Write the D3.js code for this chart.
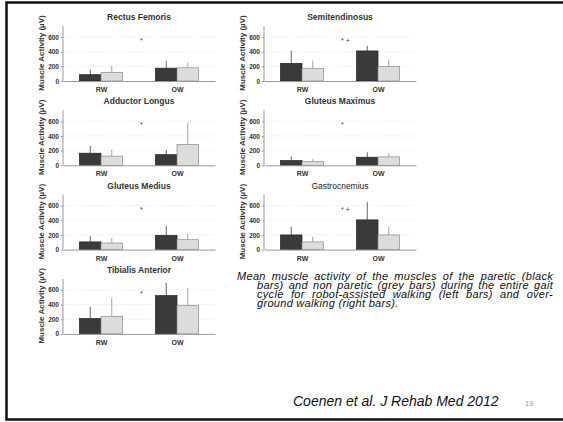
<!DOCTYPE html>
<html>
<head>
<meta charset="utf-8">
<script src="https://cdn.jsdelivr.net/npm/d3@7"></script>
<style>
  body { margin: 0; background: #fff; }
  svg { display: block; font-family: "Liberation Sans", Arial, sans-serif; }
</style>
</head>
<body>
<script>

let width = 563;
let height = 422;

// muscles, in reading order (left column, right column)
let muscles = ["Rectus Femoris", "Semitendinosus", "Adductor Longus", "Gluteus Maximus",
	"Gluteus Medius", "Gastrocnemius", "Tibialis Anterior"];
let conditions = ["RW", "OW"];
let sides = ["paretic", "nonparetic"];

// mean activity (µV) per muscle: [RW, OW]
let pareticMean = [[86, 175], [240, 410], [165, 145], [65, 110], [105, 195], [200, 405], [210, 522]];
let nonPareticMean = [[118, 180], [170, 200], [125, 285], [50, 115], [90, 135], [105, 200], [240, 390]];
// standard deviation (µV) per muscle: [RW, OW]
let pareticSD = [[70, 100], [170, 70], [100, 65], [55, 70], [80, 130], [110, 245], [160, 175]];
let nonPareticSD = [[95, 75], [110, 90], [90, 290], [35, 50], [70, 80], [70, 115], [255, 235]];

let markers = ["*", "* +", "*", "*", "*", "* +", "*"];
let yTicks = [0, 200, 400, 600];

let caption = [
	"Mean muscle activity of the muscles of the paretic (black",
	"bars) and non paretic (grey bars) during the entire gait",
	"cycle for robot-assisted walking (left bars) and over-",
	"ground walking (right bars)."
];
let citation = "Coenen et al. J Rehab Med 2012";
let pageNumber = "19";

let svg = d3.select("body")
	.append("svg")
		.attr("width", width)
		.attr("height", height);

svg.append("rect")
	.attr("width", width)
	.attr("height", height)
	.attr("fill", "#fff");

// slide frame
svg.append("path")
	.attr("d", "M" + (width + 5) + ",2.5 H6.5 V419.5 H" + (width + 5))
	.attr("fill", "none")
	.attr("stroke", "#111")
	.attr("stroke-width", 2.5);

let axisLen = 152;
let xScale = d3.scalePoint()
	.domain(conditions)
	.range([0, axisLen])
	.padding(0.5);

let sideScale = d3.scaleBand()
	.domain(sides)
	.range([-21.5, 21.5]);

let colors = {
	paretic: {fill: "#3a3a3a", stroke: "#222", err: "#555"},
	nonparetic: {fill: "#dcdcdc", stroke: "#8a8a8a", err: "#9a9a9a"}
};

muscles.forEach((name, i) => {
	let col = i % 2;
	let row = Math.floor(i / 2);
	let x0 = 63 + col * 201;
	let zeroY = 81 + row * 84.3;

	let yScale = d3.scaleLinear()
		.domain([0, 750])
		.range([zeroY, zeroY - 55]);

	let g = svg.append("g")
		.attr("transform", "translate(" + x0 + ",0)");

	// dotted gridlines
	g.selectAll("line.grid")
		.data(yTicks.slice(1))
		.enter().append("line")
		.attr("class", "grid")
		.attr("x1", 0)
		.attr("x2", axisLen)
		.attr("y1", d => yScale(d))
		.attr("y2", d => yScale(d))
		.attr("stroke", "#d8d8d8")
		.attr("stroke-width", 0.7)
		.attr("stroke-dasharray", "1,1.5");

	let rows = [];
	conditions.forEach((c, j) => {
		rows.push({cond: c, side: "paretic", mean: pareticMean[i][j], sd: pareticSD[i][j]});
		rows.push({cond: c, side: "nonparetic", mean: nonPareticMean[i][j], sd: nonPareticSD[i][j]});
	});

	// error bars (upper half only)
	g.selectAll("line.err")
		.data(rows)
		.enter().append("line")
		.attr("class", "err")
		.attr("x1", d => xScale(d.cond) + sideScale(d.side) + sideScale.bandwidth() / 2)
		.attr("x2", d => xScale(d.cond) + sideScale(d.side) + sideScale.bandwidth() / 2)
		.attr("y1", d => yScale(d.mean))
		.attr("y2", d => yScale(d.mean + d.sd))
		.attr("stroke", d => colors[d.side].err)
		.attr("stroke-width", 0.9);

	g.selectAll("rect.bar")
		.data(rows)
		.enter().append("rect")
		.attr("class", "bar")
		.attr("x", d => xScale(d.cond) + sideScale(d.side))
		.attr("y", d => yScale(d.mean))
		.attr("width", sideScale.bandwidth())
		.attr("height", d => yScale(0) - yScale(d.mean))
		.attr("fill", d => colors[d.side].fill)
		.attr("stroke", d => colors[d.side].stroke)
		.attr("stroke-width", 0.7);

	// y axis
	let yAxis = d3.axisLeft(yScale)
		.tickValues(yTicks)
		.tickSize(2)
		.tickPadding(2);
	let ya = g.append("g").call(yAxis);
	ya.select(".domain").attr("stroke", "#999").attr("d", "M0," + yScale(750) + "V" + yScale(0));
	ya.selectAll(".tick line").attr("stroke", "#999");
	ya.selectAll(".tick text")
		.attr("fill", "#333")
		.style("font-size", "6.5px")
		.style("font-weight", "bold")
		.style("font-family", "Liberation Sans, Arial, sans-serif");

	// x axis
	let xAxis = d3.axisBottom(xScale).tickSize(0).tickPadding(6);
	let xa = g.append("g")
		.attr("transform", "translate(0," + zeroY + ")")
		.call(xAxis);
	xa.select(".domain").attr("stroke", "#999");
	xa.selectAll(".tick text")
		.attr("fill", "#333")
		.style("font-size", "7px")
		.style("font-weight", "bold")
		.style("font-family", "Liberation Sans, Arial, sans-serif");

	// axis title
	g.append("text")
		.attr("transform", "translate(-19," + (zeroY - 28) + ") rotate(-90)")
		.attr("text-anchor", "middle")
		.attr("fill", "#333")
		.style("font-size", "8px")
		.style("font-weight", "bold")
		.text("Muscle Activity (µV)");

	// panel title
	g.append("text")
		.attr("x", axisLen / 2)
		.attr("y", zeroY - 61)
		.attr("text-anchor", "middle")
		.attr("fill", name === "Gastrocnemius" ? "#222" : "#333")
		.style("font-size", "8.5px")
		.style("font-weight", name === "Gastrocnemius" ? "normal" : "bold")
		.text(name);

	// significance markers
	g.append("text")
		.attr("x", 77)
		.attr("y", zeroY - 38)
		.attr("fill", "#444")
		.style("font-size", "7px")
		.style("white-space", "pre")
		.text(markers[i]);
});

// caption, justified word by word
let capLeft = [237, 257, 257, 257];
let capRight = 553;
caption.forEach((line, k) => {
	let y = 280 + k * 8.9;
	let words = line.split(" ");
	let t = svg.append("text")
		.attr("y", y)
		.attr("fill", "#111")
		.style("font-size", "11px")
		.style("letter-spacing", "0.3px")
		.style("font-style", "italic");
	let spans = words.map(w => t.append("tspan").text(w));
	let widths = spans.map(s => s.node().getComputedTextLength());
	let total = d3.sum(widths);
	let last = k === caption.length - 1;
	let gap = last ? 3.3 : (capRight - capLeft[k] - total) / (words.length - 1);
	let x = capLeft[k];
	spans.forEach((s, m) => {
		s.attr("x", x);
		x += widths[m] + gap;
	});
});

svg.append("text")
	.attr("x", 293)
	.attr("y", 406)
	.attr("fill", "#111")
	.style("font-size", "14px")
	.style("font-style", "italic")
	.text(citation);

svg.append("text")
	.attr("x", 525)
	.attr("y", 406)
	.attr("fill", "#999")
	.style("font-size", "7.5px")
	.text(pageNumber);

</script>
</body>
</html>
